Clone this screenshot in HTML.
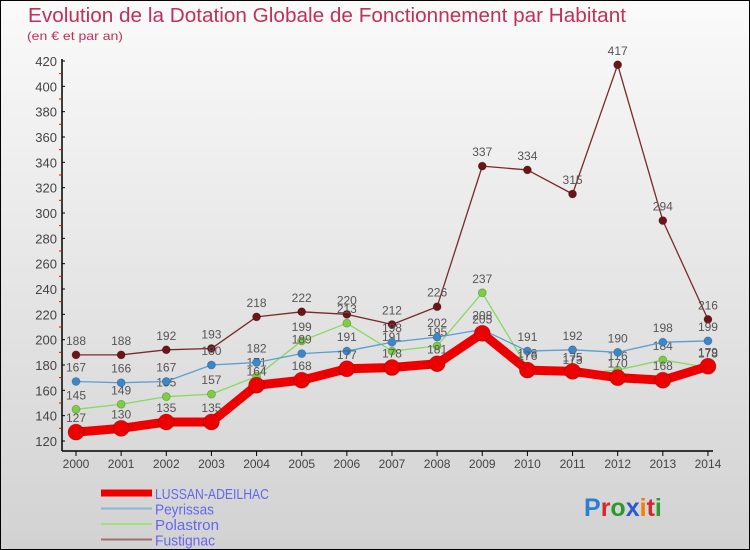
<!DOCTYPE html>
<html><head><meta charset="utf-8"><style>
body{margin:0;}
#c{width:750px;height:550px;position:relative;overflow:hidden;box-sizing:border-box;border:1px solid #000;
background:linear-gradient(#fafafa,#d2d2d2);font-family:"Liberation Sans",sans-serif;}
svg{position:absolute;left:0;top:0}
</style></head><body>
<div id="c">
<svg id="s" width="750" height="550"></svg>
</div>
<script>
const years=[2000,2001,2002,2003,2004,2005,2006,2007,2008,2009,2010,2011,2012,2013,2014];
const lussan=[127,130,135,135,164,168,177,178,181,205,176,175,170,168,179];
const peyrissas=[167,166,167,180,182,189,191,198,202,208,191,192,190,198,199];
const polastron=[145,149,155,157,171,199,213,191,195,237,178,173,176,184,178];
const fustignac=[188,188,192,193,218,222,220,212,226,337,334,315,417,294,216];
const yTicks=[120,140,160,180,200,220,240,260,280,300,320,340,360,380,400,420];
const NS="http://www.w3.org/2000/svg";
const s=document.getElementById('s');
const X=i=>75+i*45.14;
const Y=v=>440-(v-120)*1.2667;
function el(t,a,txt){const e=document.createElementNS(NS,t);for(const k in a)e.setAttribute(k,a[k]);if(txt!==undefined)e.textContent=txt;s.appendChild(e);return e;}
let t=el('text',{x:27,y:21,fill:'#c0305a','font-size':20,textLength:598,lengthAdjust:'spacingAndGlyphs'},'Evolution de la Dotation Globale de Fonctionnement par Habitant');

t=el('text',{x:26,y:39,fill:'#c0305a','font-size':12,textLength:96,lengthAdjust:'spacingAndGlyphs'},'(en € et par an)');

let a=el('line',{x1:61,y1:58,x2:61,y2:450,stroke:'#000','stroke-width':1.5});

a=el('line',{x1:61,y1:450,x2:712,y2:450,stroke:'#000','stroke-width':1.5});

yTicks.forEach((v,i)=>{
 el('line',{x1:61,y1:Y(v),x2:64,y2:Y(v),stroke:'#000'});
 if(i<yTicks.length-1){el('line',{x1:58,y1:Y(v+10),x2:61,y2:Y(v+10),stroke:'#e00'});}
 const l=el('text',{x:56,y:Y(v)+5,'text-anchor':'end','font-size':13,fill:'#444'},v);
 
});
years.forEach((y,i)=>{
 el('line',{x1:X(i),y1:450,x2:X(i),y2:455,stroke:'#000'});
 const l=el('text',{x:X(i),y:467,'text-anchor':'middle','font-size':12,fill:'#444'},y);
 
});
function series(data,color,dot,w,r,name){
 const p=el('polyline',{points:data.map((v,i)=>X(i)+','+Y(v)).join(' '),fill:'none',stroke:color,'stroke-width':w,'stroke-linejoin':'round'});
 
 data.forEach((v,i)=>{
  const c=el('circle',{cx:X(i),cy:Y(v),r:r,fill:dot,stroke:'rgba(0,0,0,0.25)','stroke-width':0.8});
  
  const l=el('text',{x:X(i),y:Y(v)-10,'text-anchor':'middle','font-size':12,fill:'#555'},v);
  
 });
}
series(fustignac,'#7a2a2a','#6b1515',1.3,4,'fustignac');
series(polastron,'#8ad860','#7cd040',1.3,4,'polastron');
series(peyrissas,'#5a9ed6','#3a88cc',1.3,4,'peyrissas');
series(lussan,'#ee0000','#ee0000',9,8,'lussan-adeilhac');
const leg=[['LUSSAN-ADEILHAC','#ee0000',7,114],['Peyrissas','#8ab4d8',2,59],['Polastron','#9ee080',2,64],['Fustignac','#a07070',2,60]];
leg.forEach((d,i)=>{
 const yy=492+i*15.5;
 const ln=el('line',{x1:100,y1:yy,x2:151,y2:yy,stroke:d[1],'stroke-width':d[2]});
 
 const l=el('text',{x:154,y:yy+6,'font-size':15,fill:'#6666ee',textLength:d[3],lengthAdjust:'spacingAndGlyphs'},d[0]);
 
});
const logo=el('text',{x:583,y:515,'font-size':25,'font-weight':'bold'});

[['P','#2a7fd0'],['r','#d02a2a'],['o','#2a9a2a'],['x','#2a5ad0'],['i','#f08000'],['t','#d02a2a'],['i','#2aa02a']].forEach(c=>{
 const ts=document.createElementNS(NS,'tspan');ts.setAttribute('fill',c[1]);ts.textContent=c[0];logo.appendChild(ts);});
</script>
</body></html>
